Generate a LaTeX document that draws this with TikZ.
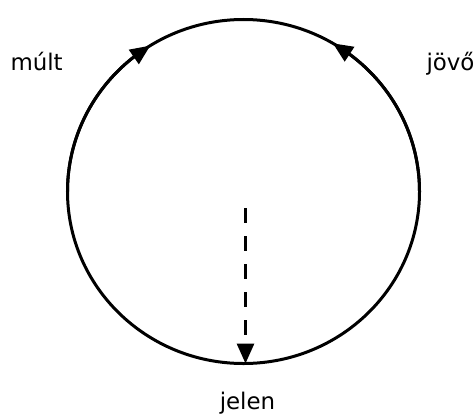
\documentclass[tikz,border=0pt]{standalone}
\usepackage{fontspec}
\setmainfont{DejaVu Sans}
\usetikzlibrary{arrows.meta,bending}
\begin{document}
\begin{tikzpicture}[x=1bp,y=1bp, line width=3bp,
  tip/.style={-{Triangle[length=20bp,width=17bp]}},
  dashline/.style={dash pattern=on 15bp off 13bp},
  lbl/.style={font=\fontsize{23}{27}\selectfont, inner sep=0pt}]
\useasboundingbox (0,0) rectangle (475,415);
\coordinate (O) at (243.5,223.5);
\coordinate (L) at (67.5,223.5);
\coordinate (R) at (419.5,223.5);
\coordinate (D) at (245.5,207);
\coordinate (B) at (245.5,51.5);
\draw (O) ellipse [x radius=176bp, y radius=172bp];
\draw[tip] (L) arc[start angle=180, end angle=122, x radius=176bp, y radius=172bp];
\draw[tip] (R) arc[start angle=0, end angle=59.5, x radius=176bp, y radius=172bp];
\draw[tip, dashline] (D) -- (B);
\node[lbl, anchor=base west] (mult) at (9,345) {múlt};
\node[lbl, anchor=base west] (jovo) at (425,345) {jövő};
\node[lbl, anchor=base] (jelen) at (247.5,6) {jelen};
\end{tikzpicture}
\end{document}
